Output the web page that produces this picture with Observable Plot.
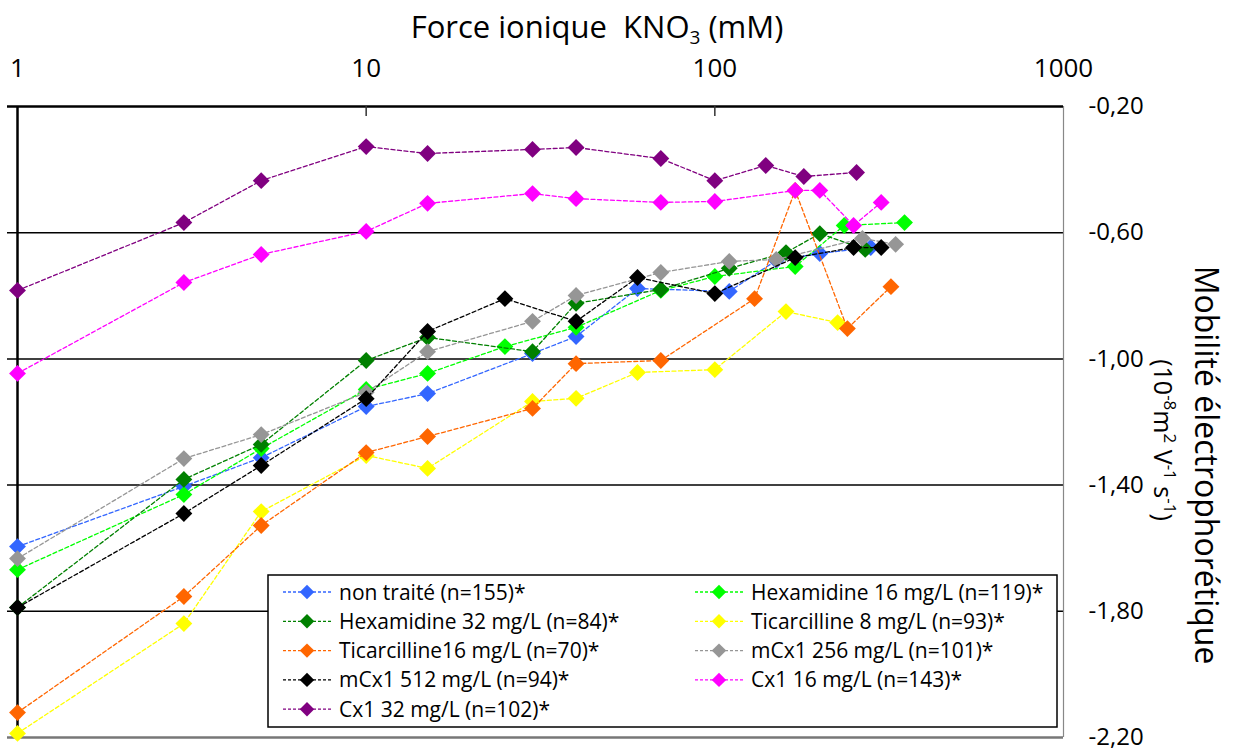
<!DOCTYPE html>
<html><head><meta charset="utf-8">
<script src="https://cdn.jsdelivr.net/npm/d3@7"></script>
<script src="https://cdn.jsdelivr.net/npm/@observablehq/plot@0.6"></script>
<style>html,body{margin:0;padding:0;background:#fff;overflow:hidden}</style>
</head><body><div id="chart"></div>
<script>
// ---- data ----
const seriesNames = [
  "non traité (n=155)*", "Hexamidine 16 mg/L (n=119)*",
  "Hexamidine 32 mg/L (n=84)*", "Ticarcilline 8 mg/L (n=93)*",
  "Ticarcilline16 mg/L (n=70)*", "mCx1 256 mg/L (n=101)*",
  "mCx1 512 mg/L (n=94)*", "Cx1 16 mg/L (n=143)*",
  "Cx1 32 mg/L (n=102)*"
];
const seriesColors = ["#3366ff","#00ff00","#008000","#ffff00","#ff6600","#969696","#000000","#ff00ff","#800080"];

const xNonTraite = [1,3,5,10,15,30,40,60,110,150,200,280];
const yNonTraite = [-1.595,-1.404,-1.313,-1.151,-1.110,-0.983,-0.929,-0.777,-0.786,-0.688,-0.666,-0.647];
const xHex16 = [1,3,5,10,15,25,40,70,100,170,235,350];
const yHex16 = [-1.668,-1.430,-1.284,-1.097,-1.046,-0.961,-0.900,-0.783,-0.739,-0.707,-0.577,-0.568];
const xHex32 = [1,3,5,10,15,30,40,70,110,160,200,270];
const yHex32 = [-1.788,-1.382,-1.271,-1.005,-0.932,-0.977,-0.824,-0.780,-0.713,-0.663,-0.603,-0.653];
const xTic8 = [1,3,5,10,15,30,40,60,100,160,225];
const yTic8 = [-2.187,-1.839,-1.484,-1.306,-1.347,-1.135,-1.125,-1.043,-1.034,-0.850,-0.885];
const xTic16 = [1,3,5,10,15,30,40,70,130,170,240,320];
const yTic16 = [-2.121,-1.753,-1.528,-1.297,-1.246,-1.157,-1.015,-1.005,-0.809,-0.466,-0.904,-0.771];
const xMCx256 = [1,3,5,10,15,30,40,70,110,150,265,330];
const yMCx256 = [-1.633,-1.316,-1.240,-1.106,-0.977,-0.881,-0.799,-0.726,-0.691,-0.685,-0.618,-0.637];
const xMCx512 = [1,3,5,10,15,25,40,60,100,170,250,300];
const yMCx512 = [-1.788,-1.490,-1.338,-1.126,-0.913,-0.809,-0.881,-0.742,-0.793,-0.679,-0.647,-0.647];
const xCx16 = [1,3,5,10,15,30,40,70,100,170,200,250,300];
const yCx16 = [-1.046,-0.758,-0.669,-0.596,-0.507,-0.476,-0.492,-0.504,-0.501,-0.466,-0.466,-0.577,-0.504];
const xCx32 = [1,3,5,10,15,30,40,70,100,140,180,255];
const yCx32 = [-0.783,-0.568,-0.435,-0.327,-0.349,-0.336,-0.330,-0.365,-0.435,-0.387,-0.422,-0.409];

const xTicks = [1,10,100,1000];
const yTicks = [-2.2,-1.8,-1.4,-1.0,-0.6,-0.2];
const gridValues = [-1.8,-1.4,-1.0,-0.6];

// ---- build table ----
const seriesX = [xNonTraite,xHex16,xHex32,xTic8,xTic16,xMCx256,xMCx512,xCx16,xCx32];
const seriesY = [yNonTraite,yHex16,yHex32,yTic8,yTic16,yMCx256,yMCx512,yCx16,yCx32];
const tables = seriesNames.map((name,i) => seriesX[i].map((x,j) => ({series:name, x, y: seriesY[i][j]})));

const FONT = "Open Sans";
const fmt = d => (d < 0 ? "-" : "") + Math.abs(d).toFixed(2).replace(".", ",");
const yTop = yTicks[yTicks.length - 1], yBottom = yTicks[0];

const chart = Plot.plot({
  width: 1234, height: 753,
  marginLeft: 17, marginRight: 171, marginTop: 106, marginBottom: 16,
  style: {fontFamily: FONT, fontSize: "24px", color: "black", background: "white"},
  x: {type: "log", domain: [1, 1000]},
  y: {domain: [yBottom, yTop]},
  color: {domain: seriesNames, range: seriesColors},
  marks: [
    Plot.ruleY(gridValues, {stroke: "black", strokeWidth: 1.5, insetLeft: -10}),
    Plot.ruleY([yBottom], {stroke: "#777", strokeWidth: 2.5, insetLeft: -10}),
    Plot.ruleX([xTicks[3]], {stroke: "#888", strokeWidth: 1.2}),
    Plot.ruleX([xTicks[0]], {stroke: "black", strokeWidth: 2.5}),
    Plot.ruleY([yTop], {stroke: "black", strokeWidth: 2.5, insetLeft: -10}),
    Plot.ruleX([xTicks[1], xTicks[2]], {y1: yTop, y2: yTop, insetBottom: -10, stroke: "#333", strokeWidth: 1.5}),
    Plot.axisX({anchor: "top", ticks: xTicks, tickFormat: d => String(d), tickSize: 0, tickPadding: 30, label: null, fontSize: 26}),
    Plot.axisY({anchor: "right", ticks: yTicks, tickFormat: fmt, tickSize: 0, tickPadding: 25, label: null, fontSize: 24}),
    ...tables.flatMap(t => [
      Plot.line(t, {x: "x", y: "y", stroke: "series", strokeWidth: 1.3, strokeDasharray: "4,2.5"}),
      Plot.dot(t, {x: "x", y: "y", fill: "series", symbol: "diamond2", r: 7.6})
    ])
  ]
});
document.getElementById("chart").appendChild(chart);

// ---- titles and legend ----
const svg = d3.select(chart);
const title = svg.append("text").attr("x", 597).attr("y", 38).attr("text-anchor", "middle")
  .attr("font-family", FONT).attr("font-size", 31).attr("fill", "black");
title.append("tspan").text("Force ionique  KNO");
title.append("tspan").attr("font-size", 19).attr("dy", 6).text("3");
title.append("tspan").attr("dy", -6).text(" (mM)");

svg.append("text").attr("transform", "translate(1195,465) rotate(90)").attr("text-anchor", "middle")
  .attr("font-family", FONT).attr("font-size", 32).attr("fill", "black").text("Mobilité électrophorétique");
const yt2 = svg.append("text").attr("transform", "translate(1154,440) rotate(90)").attr("text-anchor", "middle")
  .attr("font-family", FONT).attr("font-size", 25).attr("fill", "black");
const sup = (s) => { yt2.append("tspan").attr("font-size", 17).attr("dy", -10).text(s); };
const base = (s) => { yt2.append("tspan").attr("font-size", 25).attr("dy", 10).text(s); };
yt2.append("tspan").text("(10");
sup("-8"); base("m"); sup("2"); base(" V"); sup("-1"); base(" s"); sup("-1"); base(")");

const lg = svg.append("g");
lg.append("rect").attr("x", 268).attr("y", 575).attr("width", 789).attr("height", 152)
  .attr("fill", "white").attr("stroke", "black").attr("stroke-width", 1.5);
const diamond = d3.symbol(d3.symbolDiamond2, Math.PI * 6.5 * 6.5);
seriesNames.forEach((name, i) => {
  const col = i % 2, row = Math.floor(i / 2);
  const x0 = col === 0 ? 283 : 695;
  const yy = 592 + row * 29.3;
  lg.append("line").attr("x1", x0).attr("x2", x0 + 48).attr("y1", yy).attr("y2", yy)
    .attr("stroke", seriesColors[i]).attr("stroke-width", 1.3).attr("stroke-dasharray", "3,2");
  lg.append("path").attr("d", diamond()).attr("transform", `translate(${x0 + 24},${yy})`).attr("fill", seriesColors[i]);
  lg.append("text").attr("x", x0 + 56).attr("y", yy).attr("dy", "0.36em").attr("text-anchor", "start")
    .attr("font-family", FONT).attr("font-size", 21).attr("fill", "black").text(name);
});
</script></body></html>
